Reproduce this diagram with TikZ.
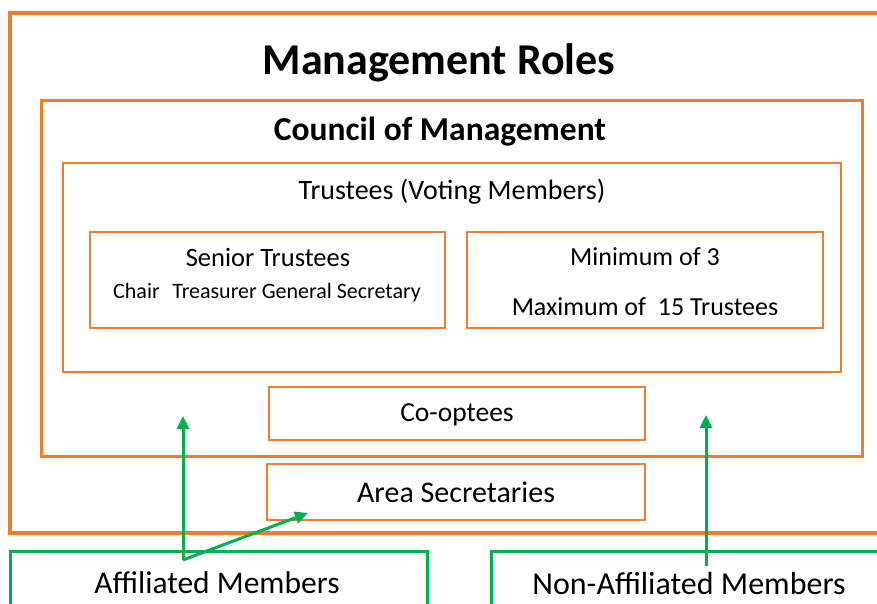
\documentclass[tikz,border=0pt]{standalone}
\usepackage{fontspec}
\setmainfont{Carlito}
\usetikzlibrary{arrows.meta}
\definecolor{orng}{HTML}{ED7D31}
\definecolor{grn}{HTML}{00B050}
\tikzset{
  obox/.style={draw=orng, rectangle, inner sep=0pt},
  gbox/.style={draw=grn, line width=3pt, rectangle, inner sep=0pt},
  txt/.style={inner sep=0pt, text=black},
  garrow/.style={draw=grn, line width=3pt, -{Triangle[length=13pt,width=12pt]}},
}
\begin{document}
\begin{tikzpicture}[x=1pt,y=-1pt]
\useasboundingbox (0,0) rectangle (877,603);
% boxes
\node[obox, line width=4pt, minimum width=875pt, minimum height=520pt] (outer) at (447.5,273) {};
\node[obox, line width=3pt, minimum width=821pt, minimum height=356pt] (council) at (451.5,278) {};
\node[obox, line width=1.8pt, minimum width=778pt, minimum height=209pt] (trustees) at (452,267.5) {};
\node[obox, line width=1.8pt, minimum width=355pt, minimum height=96pt] (senior) at (267.5,280) {};
\node[obox, line width=1.8pt, minimum width=356pt, minimum height=96pt] (minmax) at (645,280) {};
\node[obox, line width=1.8pt, minimum width=376pt, minimum height=53pt] (coopt) at (457,413.5) {};
\node[obox, line width=1.8pt, minimum width=378pt, minimum height=56pt] (area) at (456,492) {};
\node[gbox, minimum width=417pt, minimum height=80pt] (aff) at (218.5,591) {};
\node[gbox, minimum width=400pt, minimum height=80pt] (naff) at (691,591) {};
\draw[white, line width=0.7pt, dash pattern=on 3pt off 5pt] (naff.south west) -- (naff.north west) -- (naff.north east);
% texts
\node[txt, font=\bfseries\fontsize{44}{48}\selectfont] (t1) at (439,62.5) {Management Roles};
\node[txt, font=\bfseries\fontsize{33.5}{38}\selectfont] (t2) at (440,132) {Council of Management};
\node[txt, font=\fontsize{28}{32}\selectfont] (t3) at (452,192) {Trustees (Voting Members)};
\node[txt, font=\fontsize{26.5}{30}\selectfont] (t4) at (268,257) {Senior Trustees};
\node[txt, font=\fontsize{22}{26}\selectfont] (t5) at (267,293) {Chair\hspace{0.35em} Treasurer General Secretary};
\node[txt, font=\fontsize{26}{30}\selectfont] (t6) at (645,257) {Minimum of 3};
\node[txt, font=\fontsize{26}{30}\selectfont] (t7) at (645,306.5) {Maximum of\ \ 15 Trustees};
\node[txt, font=\fontsize{27.5}{30}\selectfont] (t8) at (457,415) {Co-optees};
\node[txt, font=\fontsize{30}{34}\selectfont] (t9) at (456,492) {Area Secretaries};
\node[txt, font=\fontsize{31.5}{36}\selectfont] (t10) at (217,583) {Affiliated Members};
\node[txt, font=\fontsize{32}{36}\selectfont] (t11) at (689,583) {Non-Affiliated Members};
% arrows
\coordinate (a0) at (183,560);
\coordinate (a1) at (183,416);
\coordinate (a2) at (308,513);
\coordinate (b0) at (706,566);
\coordinate (b1) at (706,415);
\draw[garrow] (a0) -- (a1);
\draw[garrow] (a0) -- (a2);
\draw[garrow] (b0) -- (b1);
\end{tikzpicture}
\end{document}
